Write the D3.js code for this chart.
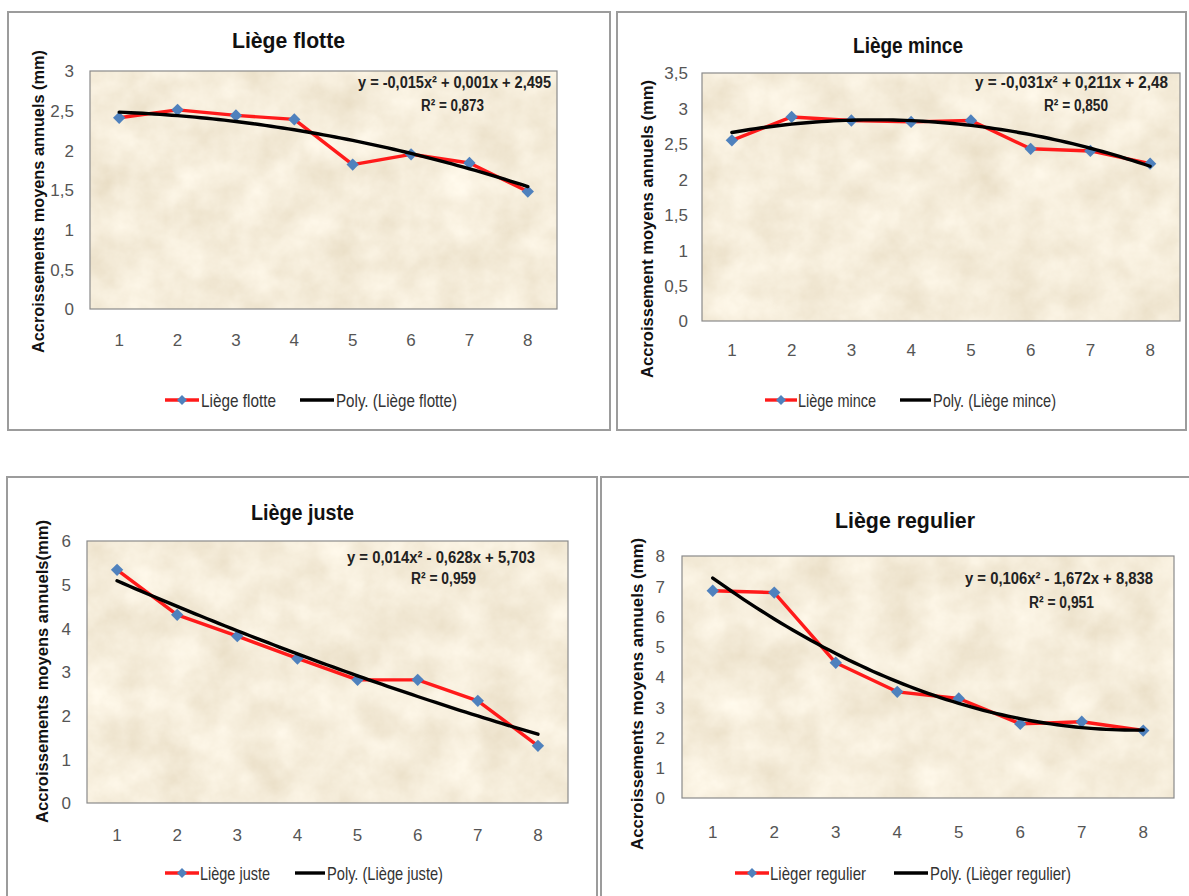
<!DOCTYPE html>
<html><head><meta charset="utf-8">
<script src="https://cdn.jsdelivr.net/npm/d3@7"></script>
<style>body{margin:0;background:#fff;} svg{display:block}</style>
</head><body>
<svg id="c" width="1189" height="896"></svg>
<script>
// ---------- DATA ----------
const categories = [1, 2, 3, 4, 5, 6, 7, 8];
const flotteValues   = [2.41, 2.51, 2.44, 2.39, 1.82, 1.95, 1.84, 1.48];
const minceValues    = [2.55, 2.88, 2.83, 2.81, 2.83, 2.43, 2.40, 2.22];
const justeValues    = [5.34, 4.31, 3.82, 3.31, 2.82, 2.82, 2.34, 1.31];
const regulierValues = [6.85, 6.79, 4.47, 3.51, 3.29, 2.45, 2.52, 2.23];
// trend polynomial coefficients as printed on the chart [a, b, c] for a x² + b x + c
const flotteTrend   = [-0.015, 0.001, 2.495];
const minceTrend    = [-0.031, 0.211, 2.48];
const justeTrend    = [0.014, -0.628, 5.703];
const regulierTrend = [0.106, -1.672, 8.838];
const flotteTicks   = [0, 0.5, 1, 1.5, 2, 2.5, 3];
const minceTicks    = [0, 0.5, 1, 1.5, 2, 2.5, 3, 3.5];
const justeTicks    = [0, 1, 2, 3, 4, 5, 6];
const regulierTicks = [0, 1, 2, 3, 4, 5, 6, 7, 8];
const titles = ["Liège flotte", "Liège mince", "Liège juste", "Liège regulier"];
const seriesNames = ["Liège flotte", "Liège mince", "Liège juste", "Lièger regulier"];
const trendNames = ["Poly. (Liège flotte)", "Poly. (Liège mince)", "Poly. (Liège juste)", "Poly. (Lièger regulier)"];
const equations = ["y = -0,015x² + 0,001x + 2,495", "y = -0,031x² + 0,211x + 2,48", "y = 0,014x² - 0,628x + 5,703", "y = 0,106x² - 1,672x + 8,838"];
const r2Labels = ["R² = 0,873", "R² = 0,850", "R² = 0,959", "R² = 0,951"];
const yTitles = ["Accroissements moyens annuels (mm)", "Accroissement moyens annuels (mm)", "Accroissements moyens annuels(mm)", "Accroissements moyens annuels (mm)"];

// ---------- LAYOUT ----------
const panels = [
  {values: flotteValues, trend: flotteTrend, ticks: flotteTicks,
   box: [8, 12, 610, 430], plot: [90, 71, 557, 309], xLabY: 340, title: [232, 345, 40],
   legY: 400, red: [165, 199], redText: [201, 276], black: [300, 334], blackText: [336, 457],
   eq: [358, 551, 82], r2: [421, 484, 105], yTitle: [38, 50, 353], yLabR: 74},
  {values: minceValues, trend: minceTrend, ticks: minceTicks,
   box: [617, 12, 1186, 430], plot: [702, 73, 1180, 321], xLabY: 350, title: [853, 963, 45],
   legY: 400, red: [765, 797], redText: [798, 876], black: [900, 931], blackText: [933, 1056],
   eq: [975, 1168, 82], r2: [1044, 1108, 105], yTitle: [647, 80, 378], yLabR: 688},
  {values: justeValues, trend: justeTrend, ticks: justeTicks,
   box: [7, 477, 597, 900], plot: [87, 541, 568, 803], xLabY: 835, title: [251, 354, 512],
   legY: 873, red: [165, 199], redText: [200, 270], black: [295, 325], blackText: [327, 443],
   eq: [347, 535, 557], r2: [411, 476, 578], yTitle: [42, 520, 823], yLabR: 71},
  {values: regulierValues, trend: regulierTrend, ticks: regulierTicks,
   box: [601, 477, 1192, 900], plot: [682, 556, 1174, 798], xLabY: 832, title: [835, 975, 520],
   legY: 873, red: [735, 769], redText: [770, 866], black: [894, 928], blackText: [930, 1071],
   eq: [965, 1153, 578], r2: [1029, 1094, 602], yTitle: [637, 538, 850], yLabR: 665}
];

const svg = d3.select("#c");
const defs = svg.append("defs");
const filt = defs.append("filter").attr("id", "parch")
  .attr("x", 0).attr("y", 0).attr("width", 1).attr("height", 1);
filt.append("feTurbulence").attr("type", "fractalNoise")
  .attr("baseFrequency", "0.025").attr("numOctaves", 5).attr("seed", 11).attr("result", "n");
filt.append("feColorMatrix").attr("in", "n").attr("type", "matrix")
  .attr("values", "0.22 0 0 0 0.805  0.26 0 0 0 0.715  0.32 0 0 0 0.545  0 0 0 0 1");

const redC = "#ff1a1a", blueC = "#4f81bd";
const font = "'Liberation Sans', Arial, sans-serif";
const diamond = d3.symbol().type(d3.symbolSquare).size(76);

function fitText(sel, x0, x1) {
  return sel.attr("x", x0).attr("textLength", x1 - x0).attr("lengthAdjust", "spacingAndGlyphs");
}

panels.forEach((p, i) => {
  const g = svg.append("g");
  const [bx0, by0, bx1, by1] = p.box;
  g.append("rect").attr("x", bx0).attr("y", by0).attr("width", bx1 - bx0).attr("height", by1 - by0)
    .attr("fill", "#fff").attr("stroke", "#9c9c9c").attr("stroke-width", 2);

  const [px0, py0, px1, py1] = p.plot;
  const x = d3.scaleBand().domain(categories).range([px0, px1]);
  const y = d3.scaleLinear().domain([0, d3.max(p.ticks)]).range([py1, py0]);
  const cx = d => x(d) + x.bandwidth() / 2;

  g.append("rect").attr("x", px0).attr("y", py0).attr("width", px1 - px0).attr("height", py1 - py0)
    .attr("filter", "url(#parch)");
  g.append("rect").attr("x", px0).attr("y", py0).attr("width", px1 - px0).attr("height", py1 - py0)
    .attr("fill", "none").attr("stroke", "#8a8a8a").attr("stroke-width", 1.2);

  // y labels
  const yAx = g.append("g").attr("transform", `translate(${p.yLabR},0)`)
    .call(d3.axisLeft(y).tickValues(p.ticks).tickSize(0).tickPadding(0)
      .tickFormat(d => String(d).replace(".", ",")));
  yAx.select(".domain").remove();
  yAx.selectAll("text").attr("font-family", font).attr("font-size", 17).attr("fill", "#555")
    .attr("dy", "0.35em");

  // x labels
  const xAx = g.append("g").attr("transform", `translate(0,${p.xLabY})`)
    .call(d3.axisBottom(x).tickSize(0).tickPadding(0));
  xAx.select(".domain").remove();
  xAx.selectAll("text").attr("font-family", font).attr("font-size", 17).attr("fill", "#555")
    .attr("dy", "0.35em");

  // series line
  const line = d3.line().x((d, j) => cx(categories[j])).y(d => y(d));
  g.append("path").datum(p.values).attr("d", line).attr("fill", "none")
    .attr("stroke", redC).attr("stroke-width", 3.4).attr("stroke-linejoin", "round");
  g.selectAll(".mk").data(p.values).enter().append("path")
    .attr("d", diamond)
    .attr("transform", (d, j) => `translate(${cx(categories[j])},${y(d)}) rotate(45)`)
    .attr("fill", blueC);

  // trend curve evaluated from the printed coefficients
  const [a, b, c] = p.trend;
  const xs = d3.scaleLinear().domain([categories[0], categories[categories.length - 1]])
    .range([cx(categories[0]), cx(categories[categories.length - 1])]);
  const tx = d3.range(categories[0], categories[categories.length - 1] + 0.001, 0.1);
  g.append("path").datum(tx)
    .attr("d", d3.line().x(t => xs(t)).y(t => y(a * t * t + b * t + c)))
    .attr("fill", "none").attr("stroke", "#000").attr("stroke-width", 3.4).attr("stroke-linecap", "round");

  // title
  fitText(g.append("text"), p.title[0], p.title[1]).attr("y", p.title[2])
    .attr("dominant-baseline", "central").attr("font-family", font).attr("font-weight", "bold")
    .attr("font-size", 22).attr("fill", "#111").text(titles[i]);

  // y title
  g.append("text").attr("transform", `translate(${p.yTitle[0]},${(p.yTitle[1] + p.yTitle[2]) / 2}) rotate(-90)`)
    .attr("text-anchor", "middle").attr("dominant-baseline", "central")
    .attr("font-family", font).attr("font-weight", "bold").attr("font-size", 17)
    .attr("textLength", p.yTitle[2] - p.yTitle[1]).attr("lengthAdjust", "spacingAndGlyphs")
    .attr("fill", "#111").text(yTitles[i]);

  // equation
  fitText(g.append("text"), p.eq[0], p.eq[1]).attr("y", p.eq[2])
    .attr("dominant-baseline", "central").attr("font-family", font).attr("font-weight", "bold")
    .attr("font-size", 16).attr("fill", "#222").text(equations[i]);
  fitText(g.append("text"), p.r2[0], p.r2[1]).attr("y", p.r2[2])
    .attr("dominant-baseline", "central").attr("font-family", font).attr("font-weight", "bold")
    .attr("font-size", 16).attr("fill", "#222").text(r2Labels[i]);

  // legend
  g.append("line").attr("x1", p.red[0]).attr("x2", p.red[1]).attr("y1", p.legY).attr("y2", p.legY)
    .attr("stroke", redC).attr("stroke-width", 3.4);
  g.append("path").attr("d", d3.symbol().type(d3.symbolSquare).size(50))
    .attr("transform", `translate(${(p.red[0] + p.red[1]) / 2},${p.legY}) rotate(45)`).attr("fill", blueC);
  fitText(g.append("text"), p.redText[0], p.redText[1]).attr("y", p.legY).attr("dominant-baseline", "central")
    .attr("font-family", font).attr("font-size", 19).attr("fill", "#333").text(seriesNames[i]);
  g.append("line").attr("x1", p.black[0]).attr("x2", p.black[1]).attr("y1", p.legY).attr("y2", p.legY)
    .attr("stroke", "#000").attr("stroke-width", 3.4);
  fitText(g.append("text"), p.blackText[0], p.blackText[1]).attr("y", p.legY).attr("dominant-baseline", "central")
    .attr("font-family", font).attr("font-size", 19).attr("fill", "#333").text(trendNames[i]);
});
</script>
</body></html>
